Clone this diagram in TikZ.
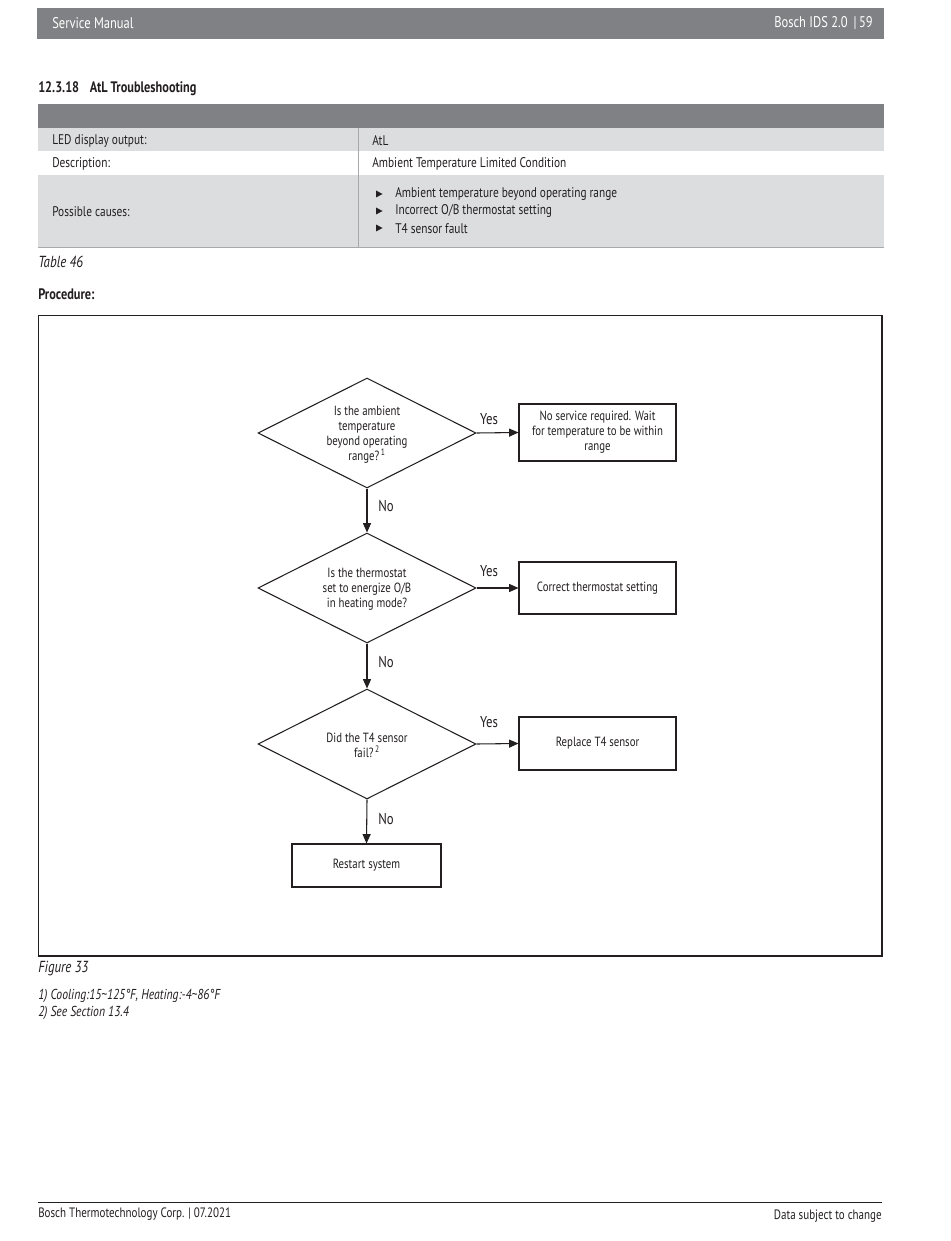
\documentclass[tikz,border=0pt]{standalone}
\usepackage{fontspec}
\setmainfont{PT Sans}[FakeStretch=0.81]
\usetikzlibrary{shapes.geometric,arrows.meta}
\definecolor{hdr}{HTML}{808184}
\definecolor{rowgray}{HTML}{DCDDDF}
\definecolor{txt}{HTML}{231F20}
\definecolor{rule}{HTML}{A7A9AC}
\begin{document}
\begin{tikzpicture}[x=0.75pt,y=-0.75pt,
  hdrtext/.style={font=\fontsize{11.6}{13}\selectfont, text=white, inner sep=0},
  celltext/.style={font=\fontsize{10.5}{12}\selectfont, text=txt, inner sep=0, anchor=west},
  headtext/.style={font=\bfseries\fontsize{11.4}{13}\selectfont, text=txt, inner sep=0, anchor=west},
  captext/.style={font=\itshape\fontsize{12}{14}\selectfont, text=txt, inner sep=0, anchor=west},
  notetext/.style={font=\itshape\fontsize{10.8}{12}\selectfont, text=txt, inner sep=0, anchor=west},
  foottext/.style={font=\fontsize{10.2}{12}\selectfont, text=txt, inner sep=0},
  dia/.style={draw=txt, diamond, minimum width=163.5pt, minimum height=82.5pt, inner sep=0, line width=0.8pt},
  diatext/.style={font=\fontsize{10}{11.25}\selectfont, text=txt, align=center, inner sep=0},
  fbox/.style={draw=txt, rectangle, inner sep=0, line width=0.8pt, font=\fontsize{10}{11.25}\selectfont, text=txt, align=center},
  lbl/.style={font=\fontsize{11.8}{13}\selectfont, text=txt, inner sep=0},
  arr/.style={draw=txt, line width=0.8pt, -{Triangle[length=7pt,width=6pt]}}
]
\useasboundingbox[fill=white] (0,0) rectangle (950,1241);
% page header
\fill[hdr] (37,8) rectangle (884,39);
\node[hdrtext, anchor=west] (hl) at (52,23) {Service Manual};
\node[hdrtext, anchor=east] (hr) at (873,23) {Bosch IDS 2.0 \,|\,59};
% section title
\node[headtext] (title) at (38,89) {12.3.18\hspace{8pt}AtL Troubleshooting};
% table
\fill[hdr] (38,104) rectangle (884,128);
\fill[rowgray] (38,128) rectangle (884,151);
\fill[rowgray] (38,175) rectangle (884,247);
\draw[rule, line width=0.6pt] (38,247) -- (884,247);
\draw[rule, line width=0.6pt] (358.5,128) -- (358.5,247);
\node[celltext] (c11) at (52,140.5) {LED display output:};
\node[celltext] (c12) at (372,140.5) {AtL};
\node[celltext] (c21) at (52,163.5) {Description:};
\node[celltext] (c22) at (372,163.5) {Ambient Temperature Limited Condition};
\node[celltext] (c31) at (52,211.5) {Possible causes:};
\foreach \yy in {194,211,228} {\fill[txt] (376,\yy-3.5) -- (382.5,\yy) -- (376,\yy+3.5) -- cycle;}
\node[celltext] (b1) at (395,194.5) {Ambient temperature beyond operating range};
\node[celltext] (b2) at (395,211.5) {Incorrect O/B thermostat setting};
\node[celltext] (b3) at (395,228.5) {T4 sensor fault};
\node[captext] (tab) at (38,262) {Table 46};
\node[headtext] (proc) at (38,294) {Procedure:};
% figure frame
\draw[txt, line width=0.8pt] (38.5,315.5) rectangle (882,956);
% flowchart
\node[dia] (d1) at (367,433) {};
\node[diatext] (t1) at ([yshift=-1.5pt]d1.center) {Is the ambient\\temperature\\beyond operating\\range?\textsuperscript{\,1}};
\node[fbox, minimum width=117.75pt, minimum height=42.75pt] (r1) at (597.5,432.5) {No service required. Wait\\for temperature to be within\\range};
\node[dia] (d2) at (367,588) {};
\node[diatext] (t2) at ([yshift=-1pt]d2.center) {Is the thermostat\\set to energize O/B\\in heating mode?};
\node[fbox, minimum width=117.75pt, minimum height=39pt] (r2) at (597.5,588) {Correct thermostat setting};
\node[dia] (d3) at (367,744) {};
\node[diatext] (t3) at ([yshift=-1pt]d3.center) {Did the T4 sensor\\fail?\textsuperscript{\,2}};
\node[fbox, minimum width=117.75pt, minimum height=39.75pt] (r3) at (597.5,743.5) {Replace T4 sensor};
\node[fbox, minimum width=111.75pt, minimum height=32.25pt] (r4) at (366.5,865.5) {Restart system};
\draw[arr] (d1.east) -- (r1.west);
\draw[arr] (d2.east) -- (r2.west);
\draw[arr] (d3.east) -- (r3.west);
\draw[arr] (d1.south) -- (d2.north);
\draw[arr] (d2.south) -- (d3.north);
\draw[arr] (d3.south) -- (r4.north);
\node[lbl] (y1) at (489,419.5) {Yes};
\node[lbl] (y2) at (489,571.5) {Yes};
\node[lbl] (y3) at (489,722.5) {Yes};
\node[lbl] (n1) at (386,505.5) {No};
\node[lbl] (n2) at (386,661.5) {No};
\node[lbl] (n3) at (386,818.5) {No};
% caption and notes
\node[captext] (fig) at (38,969) {Figure 33};
\node[notetext] (note1) at (38,995.5) {1) Cooling:15\textasciitilde125°F, Heating:-4\textasciitilde86°F};
\node[notetext] (note2) at (38,1012.5) {2) See Section 13.4};
% footer
\draw[txt, line width=0.7pt] (38,1202) -- (882,1202);
\node[foottext, anchor=west] (fl) at (38,1214.5) {Bosch Thermotechnology Corp. | 07.2021};
\node[foottext, anchor=east] (fr) at (882,1216.5) {Data subject to change};
\end{tikzpicture}
\end{document}
